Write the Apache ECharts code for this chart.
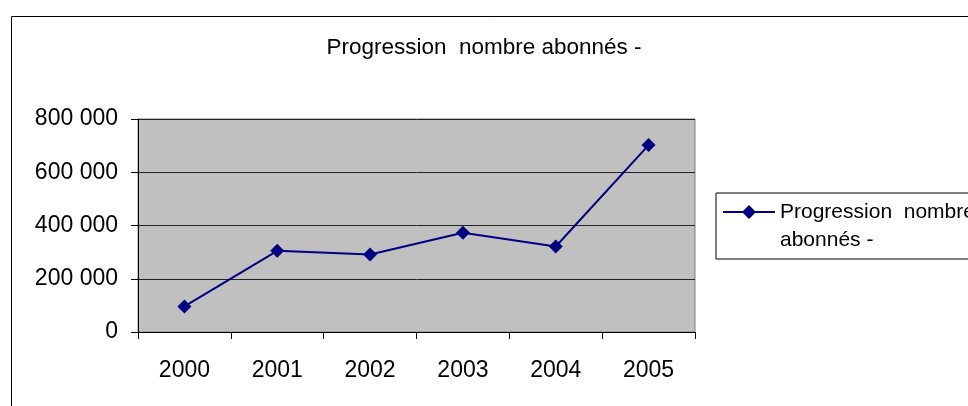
<!DOCTYPE html>
<html>
<head>
<meta charset="utf-8">
<script src="https://cdn.jsdelivr.net/npm/echarts@6/dist/echarts.min.js"></script>
<style>
    html, body { margin: 0; padding: 0; background: #fff; }
    #chart { width: 968px; height: 406px; }
</style>
</head>
<body>
<div id="chart"></div>
<script>
// données
const years = ['2000', '2001', '2002', '2003', '2004', '2005']
const abonnes = [96000, 305000, 291000, 373000, 321000, 702000]
const yTicks = [0, 200000, 400000, 600000, 800000]
const titleText = 'Progression  nombre abonnés -'

const font = '"Liberation Sans", Arial, sans-serif'

// icône de légende : trait + losange sur la 1re ligne du texte (boîte 52 x 56)
const legendIcon =
    'path://M0,0 L0,0 Z M0,56 L0,56 Z ' +
    'M0,13 L52,13 L52,15 L0,15 Z ' +
    'M26,7 L33,14 L26,21 L19,14 Z'

const myChart = echarts.init(document.getElementById('chart'))

const option = {
    animation: false,
    backgroundColor: '#fff',
    title: {
        text: titleText,
        left: 'center',
        top: 36,
        padding: 0,
        textStyle: { fontFamily: font, fontSize: 22.5, fontWeight: 'normal', color: '#000' }
    },
    // cadre extérieur du graphique
    graphic: [
        {
            type: 'rect',
            left: 9,
            top: 14,
            shape: { width: 1000, height: 500 },
            style: { fill: 'none', stroke: '#000', lineWidth: 1 },
            silent: true
        }
    ],
    legend: {
        left: 716,
        top: 193,
        orient: 'vertical',
        padding: [5, 5, 5, 7],
        borderColor: '#000',
        borderWidth: 1,
        icon: legendIcon,
        itemWidth: 52,
        itemHeight: 56,
        formatter: () => 'Progression  nombre\nabonnés -',
        textStyle: {
            fontFamily: font,
            fontSize: 21,
            color: '#000',
            lineHeight: 28
        }
    },
    grid: {
        left: 138,
        right: 273,
        top: 119,
        height: 213,
        show: true,
        backgroundColor: '#c0c0c0',
        borderColor: '#808080',
        borderWidth: 1
    },
    xAxis: {
        type: 'category',
        data: years,
        boundaryGap: true,
        axisLine: { lineStyle: { color: '#000', width: 1 } },
        axisTick: { show: true, length: 7, alignWithLabel: false, lineStyle: { color: '#000' } },
        axisLabel: { fontFamily: font, fontSize: 23, color: '#000', margin: 27 },
        splitLine: { show: false }
    },
    yAxis: {
        type: 'value',
        min: yTicks[0],
        max: yTicks[yTicks.length - 1],
        interval: 200000,
        axisLine: { show: true, lineStyle: { color: '#000', width: 1 } },
        axisTick: { show: true, length: 7, lineStyle: { color: '#000' } },
        axisLabel: {
            fontFamily: font,
            fontSize: 23,
            color: '#000',
            margin: 20,
            formatter: (v) => (v === 0 ? '0' : v / 1000 + ' 000')
        },
        splitLine: { show: true, lineStyle: { color: '#222', width: 1 } }
    },
    series: [
        {
            name: titleText,
            type: 'line',
            data: abonnes,
            color: '#000080',
            symbol: 'diamond',
            symbolSize: 14,
            lineStyle: { color: '#000080', width: 2 },
            itemStyle: { color: '#000080' }
        }
    ]
}
myChart.setOption(option)
</script>
</body>
</html>
